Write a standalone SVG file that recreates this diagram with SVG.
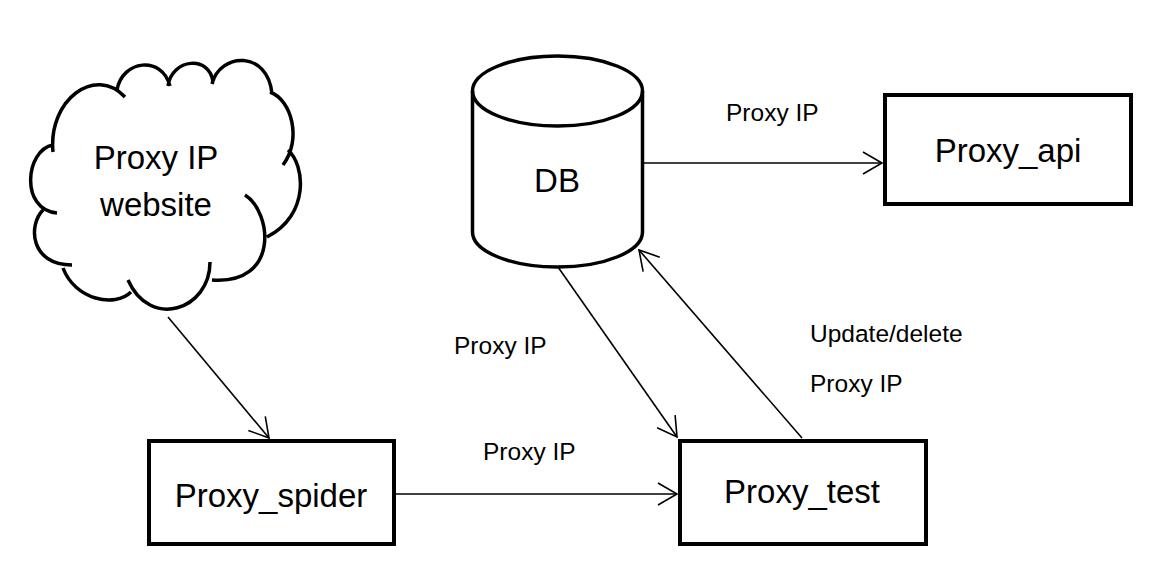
<svg xmlns="http://www.w3.org/2000/svg" width="1152" height="586" viewBox="0 0 1152 586">
  <style>
    .shape { fill: none; stroke: #000; stroke-width: 3.5; }
    .box { fill: #fff; stroke: #000; stroke-width: 4; }
    .conn { fill: none; stroke: #000; stroke-width: 1.6; marker-end: url(#arrow); }
    .node-text { font-family: "Liberation Sans", Arial, Helvetica, sans-serif; font-size: 33px; fill: #000; text-anchor: middle; }
    .label { font-family: "Liberation Sans", Arial, Helvetica, sans-serif; font-size: 24.5px; fill: #000; }
  </style>
  <defs>
    <marker id="arrow" markerUnits="userSpaceOnUse" viewBox="-22 -14 24 28" refX="0" refY="0" markerWidth="24" markerHeight="28" orient="auto" overflow="visible">
      <path d="M-19,-11 L0,0 L-19,11" fill="none" stroke="#000" stroke-width="1.6"/>
    </marker>
  </defs>
  <rect width="1152" height="586" fill="#fff"/>

  <g id="connectors">
    <line class="conn" x1="168" y1="317" x2="269" y2="438"/>
    <line class="conn" x1="396" y1="494" x2="677" y2="494"/>
    <line class="conn" x1="558" y1="267" x2="677" y2="437"/>
    <line class="conn" x1="802" y1="438" x2="639" y2="250"/>
    <line class="conn" x1="643" y1="163" x2="882" y2="163"/>
  </g>

  <g id="proxy-ip-website">
    <path class="shape" d="M53,152 C48,100 95,65 125,97
      M117,90 C122,60 162,55 170,86
      M168,86 C172,58 210,55 213,82
      M212,84 C220,52 268,50 272,94
      M270,92 C292,100 302,140 283,165
      M288,150 C305,165 310,215 267,237
      M245,195 C272,212 280,285 212,280
      M210,262 C210,310 150,330 128,280
      M63,268 C75,300 115,308 131,292
      M43,210 C28,225 30,265 72,265
      M53,145 C25,150 20,210 57,213"/>
    <text class="node-text" x="156" y="169">Proxy IP</text>
    <text class="node-text" x="156" y="216">website</text>
  </g>

  <g id="db">
    <path class="shape" d="M472.5,91 L472.5,232 A85,35 0 0 0 642.5,232 L642.5,91"/>
    <ellipse class="shape" cx="557.5" cy="91" rx="85" ry="35"/>
    <text class="node-text" x="557" y="192">DB</text>
  </g>

  <g id="proxy-api">
    <rect class="box" x="885" y="95" width="246" height="109"/>
    <text class="node-text" x="1008" y="162">Proxy_api</text>
  </g>

  <g id="proxy-spider">
    <rect class="box" x="149" y="441" width="245" height="103"/>
    <text class="node-text" x="271" y="507">Proxy_spider</text>
  </g>

  <g id="proxy-test">
    <rect class="box" x="680" y="441" width="246" height="103"/>
    <text class="node-text" x="802" y="503">Proxy_test</text>
  </g>

  <g id="labels">
    <text class="label" x="726" y="121">Proxy IP</text>
    <text class="label" x="454" y="354">Proxy IP</text>
    <text class="label" x="483" y="460">Proxy IP</text>
    <text class="label" x="810" y="342">Update/delete</text>
    <text class="label" x="810" y="392">Proxy IP</text>
  </g>
</svg>
